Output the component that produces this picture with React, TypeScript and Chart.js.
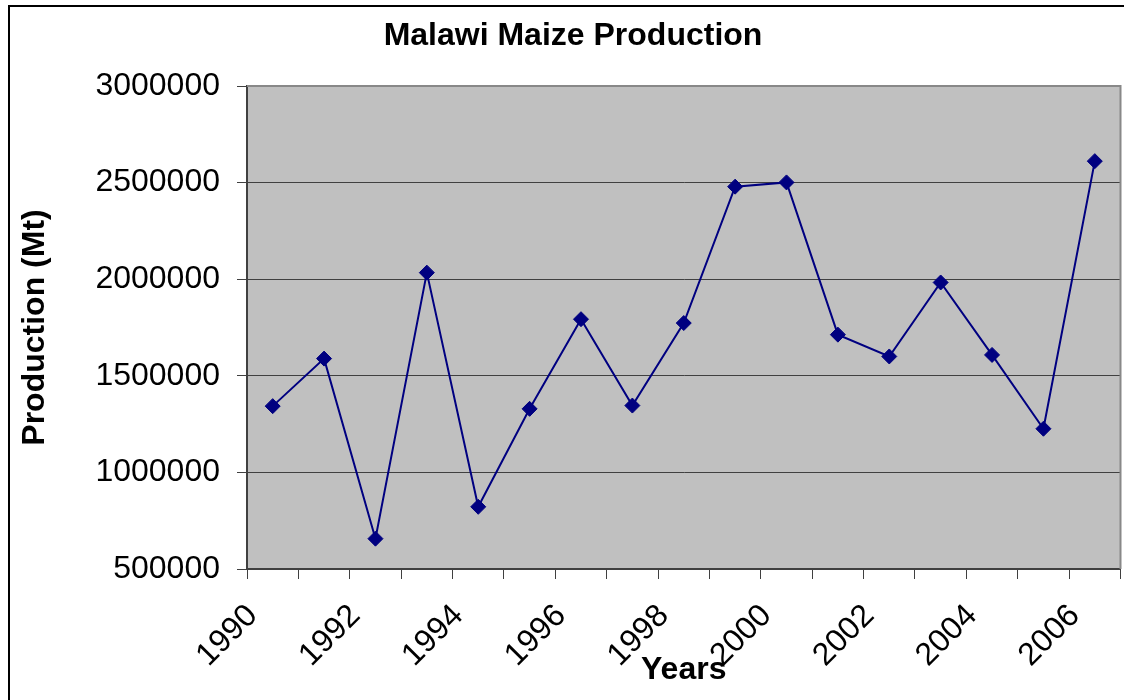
import React, { useEffect, useRef } from "react";
import { Chart, registerables } from "chart.js";

Chart.register(...registerables);

const years = ["1990","1991","1992","1993","1994","1995","1996","1997","1998","1999","2000","2001","2002","2003","2004","2005","2006"];
const production = [1343000,1589000,657000,2034000,822000,1329000,1793000,1346000,1773000,2479000,2501000,1713000,1600000,1983000,1608000,1226000,2611000];
const yMin = 500000;
const yMax = 3000000;
const yStep = 500000;
const chartTitle = "Malawi Maize Production";
const xTitle = "Years";
const yTitle = "Production (Mt)";

const FONT = "'Liberation Sans', Arial, sans-serif";

const decorPlugin = {
  id: "decor",
  beforeDraw(chart: any) {
    const { ctx, chartArea } = chart;
    ctx.save();
    ctx.fillStyle = "#ffffff";
    ctx.fillRect(0, 0, chart.width, chart.height);
    // frame
    ctx.strokeStyle = "#000000";
    ctx.lineWidth = 2;
    ctx.beginPath();
    ctx.moveTo(9, 700);
    ctx.lineTo(9, 6);
    ctx.lineTo(1124, 6);
    ctx.stroke();
    // plot background
    ctx.fillStyle = "#C0C0C0";
    ctx.fillRect(chartArea.left, chartArea.top, chartArea.right - chartArea.left, chartArea.bottom - chartArea.top);
    // title
    ctx.fillStyle = "#000000";
    ctx.font = `bold 32px ${FONT}`;
    ctx.textAlign = "center";
    ctx.textBaseline = "middle";
    ctx.fillText(chartTitle, 573, 36);
    ctx.restore();
  },
  beforeDatasetsDraw(chart: any) {
    const { ctx, chartArea } = chart;
    ctx.save();
    ctx.strokeStyle = "#888888";
    ctx.lineWidth = 2;
    ctx.beginPath();
    ctx.moveTo(chartArea.left, chartArea.top);
    ctx.lineTo(chartArea.right, chartArea.top);
    ctx.lineTo(chartArea.right, chartArea.bottom);
    ctx.stroke();
    ctx.restore();
  },
};

export default function App() {
  const ref = useRef<HTMLCanvasElement | null>(null);
  useEffect(() => {
    if (!ref.current) return;
    const chart = new Chart(ref.current, {
      type: "line",
      data: {
        labels: years,
        datasets: [
          {
            data: production,
            borderColor: "#000080",
            backgroundColor: "#000080",
            borderWidth: 2,
            tension: 0,
            pointStyle: "rectRot",
            pointRadius: 7.5,
            pointBorderWidth: 1,
            pointBorderColor: "#000080",
            pointBackgroundColor: "#000080",
          },
        ],
      },
      options: {
        animation: false,
        responsive: false,
        devicePixelRatio: 1,
        layout: { padding: { left: 0, right: 8, top: 86, bottom: 0 } },
        plugins: { legend: { display: false }, tooltip: { enabled: false }, title: { display: false } },
        scales: {
          x: {
            type: "category",
            offset: true,
            grid: {
              display: true,
              drawOnChartArea: false,
              drawTicks: true,
              tickLength: 10,
              offset: true,
              color: "#404040",
              lineWidth: 1,
            },
            border: { display: true, color: "#404040", width: 2 },
            ticks: {
              autoSkip: false,
              maxRotation: 45,
              minRotation: 45,
              padding: 18,
              labelOffset: -20,
              color: "#000000",
              font: { family: FONT, size: 32 },
              callback: (_v: any, i: number) => (i % 2 === 0 ? years[i] : ""),
            },
            title: {
              display: true,
              text: xTitle,
              color: "#000000",
              font: { family: FONT, size: 32, weight: "bold" },
              padding: { top: 0, bottom: 11 },
            },
            afterFit: (s: any) => {
              s.height = 131;
              s.paddingLeft = 0;
              s.paddingRight = 0;
            },
          },
          y: {
            min: yMin,
            max: yMax,
            grid: {
              color: (c: any) => (c.tick && c.tick.value === yMax ? "rgba(0,0,0,0)" : "#404040"),
              lineWidth: 1,
              tickLength: 10,
              drawTicks: true,
              tickColor: "#404040",
            },
            border: { display: true, color: "#404040", width: 2 },
            ticks: {
              stepSize: yStep,
              padding: 17,
              color: "#000000",
              font: { family: FONT, size: 32 },
              callback: (v: any) => String(v),
            },
            title: {
              display: true,
              text: yTitle,
              color: "#000000",
              font: { family: FONT, size: 32, weight: "bold" },
              padding: { top: 16, bottom: 0 },
            },
            afterFit: (s: any) => {
              s.width = 247;
            },
          },
        },
      },
      plugins: [decorPlugin],
    } as any);
    return () => chart.destroy();
  }, []);
  return (
    <div style={{ position: "fixed", left: 0, top: 0, width: 1129, height: 700 }}>
      <canvas ref={ref} width={1129} height={700} style={{ display: "block" }} />
    </div>
  );
}
